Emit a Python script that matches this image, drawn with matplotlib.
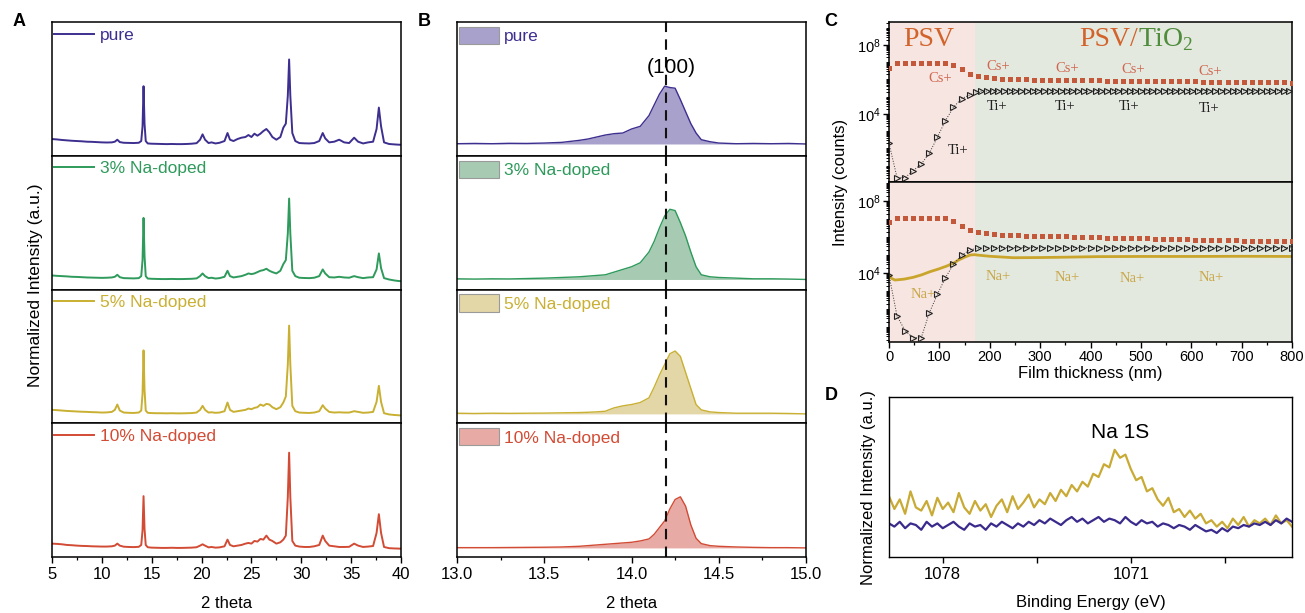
import numpy as np
import matplotlib
matplotlib.use("Agg")
import matplotlib.pyplot as plt
from matplotlib.patches import Patch
from matplotlib.ticker import FixedLocator, FuncFormatter, LogLocator, MultipleLocator, NullFormatter

plt.rcParams['font.family'] = ['Liberation Sans', 'DejaVu Sans']
plt.rcParams['font.size'] = 12

# ---------------- data ----------------
samples = ["pure", "3% Na-doped", "5% Na-doped", "10% Na-doped"]
line_colors = ["#3d2f8f", "#2e9a5b", "#c9b032", "#d24b34"]
fill_colors = ["#a8a1cb", "#a6cbb2", "#e3d6a7", "#e8aaa4"]

# panel A: full XRD patterns (normalized, stacked)
xrd_2theta = [5.0, 5.5, 6.0, 6.5, 7.0, 7.5, 8.0, 8.5, 9.0, 9.5,
              10.0, 10.5, 11.0, 11.3, 11.55, 11.8, 12.2, 12.7, 13.2, 13.7,
              13.95, 14.08, 14.18, 14.28, 14.4, 14.6, 15.0, 15.5, 16.0, 16.5,
              17.0, 17.5, 18.0, 18.5, 19.0, 19.5, 19.85, 20.1, 20.35, 20.7,
              21.0, 21.4, 21.8, 22.3, 22.6, 22.85, 23.2, 23.6, 24.0, 24.4,
              24.7, 25.0, 25.3, 25.6, 25.9, 26.2, 26.5, 26.8, 27.1, 27.5,
              27.9, 28.2, 28.45, 28.65, 28.78, 28.9, 29.1, 29.4, 29.8, 30.3,
              30.8, 31.3, 31.8, 32.15, 32.4, 32.8, 33.3, 33.8, 34.3, 34.8,
              35.3, 35.7, 36.2, 36.7, 37.2, 37.55, 37.78, 38.0, 38.3, 38.8,
              39.3, 39.7, 40.0]
xrd_pure = [0.125, 0.122, 0.118, 0.115, 0.112, 0.110, 0.108, 0.105, 0.104, 0.102,
            0.100, 0.099, 0.100, 0.105, 0.120, 0.102, 0.097, 0.096, 0.095, 0.097,
            0.11, 0.22, 0.52, 0.24, 0.11, 0.092, 0.090, 0.089, 0.088, 0.087,
            0.088, 0.087, 0.087, 0.088, 0.090, 0.094, 0.12, 0.16, 0.12, 0.095,
            0.10, 0.092, 0.097, 0.11, 0.17, 0.12, 0.11, 0.125, 0.135, 0.14,
            0.155, 0.14, 0.165, 0.15, 0.165, 0.185, 0.20, 0.175, 0.14, 0.12,
            0.14, 0.21, 0.24, 0.45, 0.72, 0.45, 0.17, 0.11, 0.095, 0.093,
            0.092, 0.095, 0.11, 0.17, 0.13, 0.10, 0.105, 0.12, 0.10, 0.095,
            0.135, 0.105, 0.092, 0.10, 0.105, 0.20, 0.36, 0.22, 0.10, 0.088,
            0.085, 0.083, 0.082]
xrd_na3 = [0.105, 0.102, 0.10, 0.098, 0.095, 0.094, 0.092, 0.090, 0.089, 0.088,
           0.087, 0.088, 0.090, 0.095, 0.11, 0.092, 0.085, 0.084, 0.083, 0.085,
           0.10, 0.22, 0.535, 0.25, 0.10, 0.082, 0.080, 0.079, 0.078, 0.078,
           0.079, 0.078, 0.078, 0.079, 0.08, 0.083, 0.10, 0.12, 0.10, 0.085,
           0.088, 0.082, 0.085, 0.095, 0.14, 0.10, 0.09, 0.095, 0.10, 0.11,
           0.12, 0.115, 0.12, 0.13, 0.14, 0.145, 0.155, 0.14, 0.13, 0.12,
           0.14, 0.19, 0.22, 0.42, 0.68, 0.42, 0.14, 0.10, 0.088, 0.086,
           0.085, 0.088, 0.10, 0.15, 0.12, 0.092, 0.09, 0.095, 0.09, 0.088,
           0.10, 0.092, 0.085, 0.09, 0.092, 0.15, 0.27, 0.16, 0.085, 0.075,
           0.068, 0.064, 0.062]
xrd_na5 = [0.10, 0.098, 0.095, 0.092, 0.09, 0.088, 0.086, 0.085, 0.083, 0.082,
           0.080, 0.081, 0.085, 0.10, 0.14, 0.095, 0.08, 0.078, 0.077, 0.08,
           0.095, 0.22, 0.545, 0.25, 0.095, 0.078, 0.076, 0.075, 0.075, 0.074,
           0.075, 0.074, 0.074, 0.075, 0.076, 0.08, 0.10, 0.13, 0.10, 0.08,
           0.082, 0.078, 0.08, 0.09, 0.155, 0.10, 0.085, 0.09, 0.095, 0.10,
           0.11, 0.105, 0.115, 0.12, 0.14, 0.13, 0.145, 0.14, 0.12, 0.105,
           0.12, 0.155, 0.20, 0.44, 0.73, 0.44, 0.13, 0.09, 0.08, 0.078,
           0.077, 0.08, 0.09, 0.135, 0.11, 0.085, 0.08, 0.082, 0.08, 0.08,
           0.09, 0.085, 0.078, 0.08, 0.085, 0.16, 0.28, 0.16, 0.075, 0.066,
           0.062, 0.06, 0.058]
xrd_na10 = [0.10, 0.098, 0.095, 0.09, 0.088, 0.085, 0.083, 0.082, 0.08, 0.079,
            0.078, 0.078, 0.08, 0.085, 0.10, 0.085, 0.077, 0.075, 0.074, 0.076,
            0.09, 0.20, 0.455, 0.21, 0.09, 0.073, 0.07, 0.069, 0.068, 0.068,
            0.069, 0.068, 0.068, 0.069, 0.07, 0.073, 0.085, 0.095, 0.085, 0.072,
            0.075, 0.07, 0.072, 0.08, 0.13, 0.09, 0.08, 0.085, 0.09, 0.10,
            0.105, 0.10, 0.12, 0.115, 0.135, 0.13, 0.16, 0.13, 0.12, 0.10,
            0.11, 0.13, 0.16, 0.45, 0.78, 0.45, 0.12, 0.085, 0.078, 0.075,
            0.075, 0.08, 0.09, 0.16, 0.12, 0.085, 0.08, 0.075, 0.075, 0.076,
            0.10, 0.085, 0.075, 0.078, 0.082, 0.18, 0.32, 0.18, 0.075, 0.066,
            0.064, 0.063, 0.062]

# panel B: zoom on the (100) reflection
zoom_2theta = [13.0, 13.1, 13.2, 13.3, 13.4, 13.5, 13.6, 13.7, 13.75, 13.8,
               13.85, 13.9, 13.95, 14.0, 14.05, 14.1, 14.13, 14.16, 14.19, 14.22,
               14.25, 14.28, 14.31, 14.34, 14.37, 14.4, 14.45, 14.5, 14.6, 14.7,
               14.8, 14.9, 15.0]
zoom_pure = [0.09, 0.092, 0.09, 0.093, 0.092, 0.095, 0.10, 0.115, 0.125, 0.14,
             0.155, 0.165, 0.17, 0.20, 0.22, 0.30, 0.38, 0.46, 0.52, 0.51,
             0.505, 0.42, 0.33, 0.24, 0.17, 0.12, 0.105, 0.095, 0.09, 0.092,
             0.09, 0.092, 0.088]
zoom_na3 = [0.08, 0.078, 0.08, 0.079, 0.082, 0.085, 0.09, 0.095, 0.10, 0.105,
            0.11, 0.13, 0.15, 0.17, 0.20, 0.28, 0.36, 0.46, 0.55, 0.60,
            0.59, 0.50, 0.40, 0.28, 0.17, 0.11, 0.095, 0.09, 0.085, 0.08,
            0.08, 0.078, 0.075]
zoom_na5 = [0.075, 0.073, 0.075, 0.074, 0.075, 0.076, 0.078, 0.08, 0.082, 0.085,
            0.09, 0.115, 0.13, 0.14, 0.155, 0.19, 0.27, 0.36, 0.44, 0.52,
            0.54, 0.50, 0.38, 0.26, 0.14, 0.10, 0.085, 0.08, 0.075, 0.075,
            0.075, 0.073, 0.07]
zoom_na10 = [0.07, 0.07, 0.07, 0.071, 0.072, 0.073, 0.075, 0.08, 0.085, 0.09,
             0.095, 0.10, 0.105, 0.11, 0.12, 0.135, 0.17, 0.22, 0.27, 0.36,
             0.43, 0.45, 0.38, 0.24, 0.14, 0.10, 0.085, 0.08, 0.075, 0.072,
             0.07, 0.07, 0.068]
peak_100 = 14.2

# panel C: ToF-SIMS depth profiles (log10 counts)
depth_16 = [0, 16, 32, 48, 64, 80, 96, 112, 128, 144,
            160, 176, 192, 208, 224, 240, 256, 272, 288, 304,
            320, 336, 352, 368, 384, 400, 416, 432, 448, 464,
            480, 496, 512, 528, 544, 560, 576, 592, 608, 624,
            640, 656, 672, 688, 704, 720, 736, 752, 768, 784, 800]
cs_top = [6.65, 6.97, 6.98, 6.98, 6.97, 6.98, 6.97, 6.98, 6.84, 6.59,
          6.32, 6.20, 6.12, 6.07, 6.04, 6.02, 6.01, 6.00, 5.99, 5.99,
          5.98, 5.97, 5.97, 5.96, 5.96, 5.95, 5.95, 5.94, 5.94, 5.93,
          5.93, 5.92, 5.92, 5.91, 5.91, 5.90, 5.90, 5.89, 5.89, 5.88,
          5.88, 5.87, 5.87, 5.86, 5.86, 5.85, 5.85, 5.84, 5.84, 5.83, 5.82]
ti_top_depth = [0, 16, 32, 48, 64, 80, 96, 112, 128, 144, 160,
                172, 183, 194, 206, 217, 228, 240, 251, 262, 274,
                285, 296, 308, 319, 330, 342, 353, 364, 376, 387,
                398, 410, 421, 432, 444, 455, 466, 478, 489, 500,
                512, 523, 534, 546, 557, 568, 580, 591, 602, 614,
                625, 636, 648, 659, 670, 682, 693, 704, 716, 727,
                738, 750, 761, 772, 784, 795]
ti_top = [2.30, 0.31, 0.31, 0.71, 1.10, 1.72, 2.65, 3.61, 4.39, 4.89, 5.10,
          5.28, 5.32, 5.33, 5.34, 5.34, 5.35, 5.35, 5.35, 5.35, 5.35,
          5.35, 5.35, 5.35, 5.35, 5.35, 5.35, 5.35, 5.35, 5.35, 5.35,
          5.35, 5.35, 5.35, 5.35, 5.35, 5.35, 5.35, 5.35, 5.35, 5.35,
          5.35, 5.35, 5.35, 5.35, 5.35, 5.35, 5.35, 5.35, 5.35, 5.35,
          5.35, 5.35, 5.35, 5.35, 5.35, 5.35, 5.35, 5.35, 5.35, 5.35,
          5.35, 5.35, 5.35, 5.35, 5.35, 5.35]
cs_bottom = [6.85, 7.04, 7.05, 7.05, 7.04, 7.05, 7.05, 7.04, 6.91, 6.63,
             6.39, 6.26, 6.20, 6.16, 6.13, 6.11, 6.09, 6.08, 6.07, 6.06,
             6.05, 6.04, 6.03, 6.02, 6.01, 5.99, 5.98, 5.97, 5.96, 5.95,
             5.94, 5.93, 5.92, 5.91, 5.90, 5.89, 5.88, 5.87, 5.86, 5.85,
             5.84, 5.83, 5.82, 5.81, 5.80, 5.80, 5.79, 5.78, 5.77, 5.77, 5.76]
ti_bottom = [3.89, 1.61, 0.79, 0.40, 0.40, 1.79, 2.81, 3.74, 4.48, 4.98,
             5.28, 5.38, 5.40, 5.41, 5.41, 5.41, 5.41, 5.41, 5.41, 5.41,
             5.41, 5.41, 5.41, 5.41, 5.41, 5.41, 5.41, 5.41, 5.41, 5.41,
             5.41, 5.41, 5.41, 5.41, 5.41, 5.41, 5.41, 5.41, 5.41, 5.41,
             5.41, 5.41, 5.41, 5.41, 5.41, 5.41, 5.41, 5.41, 5.41, 5.41, 5.41]
na_depth = [0, 5, 12, 30, 48, 65, 81, 98, 115, 130, 138, 150, 161, 170,
            175, 200, 247, 300, 350, 413, 500, 600, 700, 800]
na_bottom = [3.89, 3.70, 3.61, 3.66, 3.76, 3.90, 4.07, 4.22, 4.39, 4.58, 4.72,
             4.88, 5.00, 5.02, 5.00, 4.93, 4.85, 4.86, 4.88, 4.91, 4.92, 4.92,
             4.93, 4.92]
psv_thickness = 171
cs_labels = [(101, 6.03), (217, 6.74), (353, 6.65), (485, 6.55), (637, 6.45)]
ti_labels = [(138, 1.87), (214, 4.42), (349, 4.46), (477, 4.42), (636, 4.33)]
na_labels = [(68, 2.83), (217, 3.80), (353, 3.76), (482, 3.71), (639, 3.76)]

# panel D: XPS Na 1s
binding_energy = [1080.0, 1079.8, 1079.6, 1079.4, 1079.2, 1079.0, 1078.8, 1078.6, 1078.4, 1078.2,
                  1078.0, 1077.8, 1077.6, 1077.4, 1077.2, 1077.0, 1076.8, 1076.6, 1076.4, 1076.2,
                  1076.0, 1075.8, 1075.6, 1075.4, 1075.2, 1075.0, 1074.8, 1074.6, 1074.4, 1074.2,
                  1074.0, 1073.8, 1073.6, 1073.4, 1073.2, 1073.0, 1072.8, 1072.6, 1072.4, 1072.2,
                  1072.0, 1071.8, 1071.6, 1071.4, 1071.2, 1071.0, 1070.8, 1070.6, 1070.4, 1070.2,
                  1070.0, 1069.8, 1069.6, 1069.4, 1069.2, 1069.0, 1068.8, 1068.6, 1068.4, 1068.2,
                  1068.0, 1067.8, 1067.6, 1067.4, 1067.2, 1067.0, 1066.8, 1066.6, 1066.4, 1066.2,
                  1066.0, 1065.8, 1065.6, 1065.4, 1065.2, 1065.0]
xps_na5 = [0.38, 0.30, 0.36, 0.27, 0.41, 0.31, 0.29, 0.35, 0.26, 0.37,
           0.30, 0.34, 0.28, 0.40, 0.31, 0.27, 0.35, 0.29, 0.33, 0.25,
           0.32, 0.36, 0.28, 0.38, 0.30, 0.34, 0.39, 0.31, 0.36, 0.33,
           0.40, 0.35, 0.42, 0.38, 0.45, 0.41, 0.47, 0.44, 0.52, 0.50,
           0.58, 0.56, 0.67, 0.62, 0.64, 0.55, 0.48, 0.50, 0.41, 0.43,
           0.36, 0.32, 0.37, 0.28, 0.30, 0.25, 0.29, 0.24, 0.27, 0.21,
           0.23, 0.19, 0.22, 0.18, 0.24, 0.20, 0.25, 0.19, 0.23, 0.21,
           0.24, 0.20, 0.26, 0.21, 0.23, 0.19]
xps_pure = [0.21, 0.19, 0.22, 0.18, 0.21, 0.20, 0.17, 0.22, 0.19, 0.21,
            0.18, 0.20, 0.22, 0.19, 0.17, 0.21, 0.19, 0.20, 0.17, 0.21,
            0.19, 0.22, 0.20, 0.18, 0.21, 0.19, 0.22, 0.20, 0.23, 0.21,
            0.24, 0.22, 0.20, 0.23, 0.25, 0.22, 0.24, 0.21, 0.23, 0.25,
            0.22, 0.24, 0.23, 0.21, 0.25, 0.22, 0.20, 0.23, 0.21, 0.22,
            0.19, 0.21, 0.20, 0.18, 0.20, 0.19, 0.17, 0.20, 0.18, 0.16,
            0.17, 0.15, 0.18, 0.16, 0.19, 0.18, 0.20, 0.19, 0.21, 0.20,
            0.22, 0.20, 0.23, 0.21, 0.24, 0.22]

xrd_sets = [xrd_pure, xrd_na3, xrd_na5, xrd_na10]
zoom_sets = [zoom_pure, zoom_na3, zoom_na5, zoom_na10]

# ---------------- layout ----------------
W, H = 1305, 613
fig = plt.figure(figsize=(W / 100, H / 100), dpi=100)


def box(x0, y0, x1, y1):
    # pixel box (top-left origin) -> figure fraction rect
    return [x0 / W, 1 - y1 / H, (x1 - x0) / W, (y1 - y0) / H]


edges = [22, 155.75, 289.5, 423.25, 557]
SERIF = ['Liberation Serif', 'DejaVu Serif']


def style_stack(ax, last, xmaj, xmin):
    ax.set_ylim(0, 1)
    ax.set_yticks([])
    for s in ax.spines.values():
        s.set_linewidth(1.1)
    if last:
        ax.xaxis.set_major_locator(MultipleLocator(xmaj))
        ax.xaxis.set_minor_locator(MultipleLocator(xmin))
        ax.tick_params(axis='x', which='major', direction='out', length=4, width=1, labelsize=12)
        ax.tick_params(axis='x', which='minor', direction='out', length=2.5, width=0.9)
        ax.set_xlabel("2 theta", fontsize=12, labelpad=10)
    else:
        ax.tick_params(axis='x', which='both', bottom=False, labelbottom=False)


# panel A
for i in range(4):
    ax = fig.add_axes(box(52, edges[i], 401, edges[i + 1]))
    ax.plot(xrd_2theta, xrd_sets[i], color=line_colors[i], lw=1.4, label=samples[i])
    ax.set_xlim(5, 40)
    style_stack(ax, i == 3, 5, 2.5)
    ax.legend(loc='upper left', bbox_to_anchor=(-0.005, 0.985), frameon=False,
              handlelength=2.3, handletextpad=0.35, borderaxespad=0, borderpad=0.2,
              labelcolor='linecolor', fontsize=12.5)
fig.text(36 / W, 1 - 285 / H, "Normalized Intensity (a.u.)", rotation=90,
         ha='center', va='center', fontsize=12.5)

# panel B
for i in range(4):
    ax = fig.add_axes(box(457, edges[i], 806, edges[i + 1]))
    ax.fill_between(zoom_2theta, min(zoom_sets[i]), zoom_sets[i], color=fill_colors[i], lw=0)
    ax.plot(zoom_2theta, zoom_sets[i], color=line_colors[i], lw=1.0)
    ax.axvline(peak_100, color='#111111', ls=(0, (5, 3.5)), lw=1.5)
    ax.set_xlim(13.0, 15.0)
    style_stack(ax, i == 3, 0.5, 0.25)
    if i == 3:
        ax.xaxis.set_major_formatter(FuncFormatter(lambda v, p: f"{v:.1f}"))
    h = Patch(facecolor=fill_colors[i], edgecolor='#9a9a9a', lw=0.8)
    ax.legend([h], [samples[i]], loc='upper left', bbox_to_anchor=(-0.005, 0.99),
              frameon=False, handlelength=2.3, handleheight=1.15, handletextpad=0.3,
              borderaxespad=0, borderpad=0.2, labelcolor=line_colors[i], fontsize=12.5)
    if i == 0:
        ax.text(peak_100 + 0.03, 0.66, "(100)", ha='center', va='center', fontsize=15)

# panel C
axC1 = fig.add_axes(box(889, 22, 1292, 182))
axC2 = fig.add_axes(box(889, 182, 1292, 342))
pow10 = lambda v: np.power(10.0, np.asarray(v))
for ax in (axC1, axC2):
    ax.axvspan(0, psv_thickness, color='#f6e5e0', lw=0, zorder=0)
    ax.axvspan(psv_thickness, 800, color='#e4e9e0', lw=0, zorder=0)
    ax.set_xlim(0, 800)
    ax.set_yscale('log')
    ax.yaxis.set_major_locator(FixedLocator([1e4, 1e8]))
    ax.yaxis.set_major_formatter(FuncFormatter(
        lambda v, p: r"$\mathregular{10^{%d}}$" % round(np.log10(v))))
    ax.yaxis.set_minor_locator(LogLocator(base=10, subs=np.arange(1, 10), numticks=30))
    ax.yaxis.set_minor_formatter(NullFormatter())
    ax.tick_params(axis='y', which='major', direction='out', length=4, width=1, labelsize=10.5, pad=2)
    ax.tick_params(axis='y', which='minor', direction='out', length=2, width=0.7)
    for s in ax.spines.values():
        s.set_linewidth(1.1)

axC1.set_ylim(1.14, 2.15e9)
axC2.set_ylim(1.47, 1.14e9)
axC1.tick_params(axis='x', which='both', bottom=False, labelbottom=False)
axC2.xaxis.set_major_locator(MultipleLocator(100))
axC2.xaxis.set_minor_locator(MultipleLocator(50))
axC2.tick_params(axis='x', which='major', direction='out', length=4, width=1, labelsize=10.5, pad=2)
axC2.tick_params(axis='x', which='minor', direction='out', length=2.5, width=0.9)
axC2.set_xlabel("Film thickness (nm)", fontsize=12, labelpad=1)

cs_kw = dict(marker='s', ms=3.6, ls='none', color='#c4583b', mew=0, zorder=3)
ti_kw = dict(marker='>', ms=3.8, mfc='none', mec='#222222', mew=0.8,
             ls=':', lw=0.7, color='#333333', zorder=3)
axC1.plot(depth_16, pow10(cs_top), **cs_kw)
axC1.plot(ti_top_depth, pow10(ti_top), **ti_kw)
axC2.plot(depth_16, pow10(cs_bottom), **cs_kw)
axC2.plot(depth_16, pow10(ti_bottom), **ti_kw)
axC2.plot(na_depth, pow10(na_bottom), color='#c9a52c', lw=2, zorder=2)

for x, y in cs_labels:
    axC1.text(x, 10 ** y, "Cs+", color='#d0664f', family=SERIF, fontsize=10.5,
              ha='center', va='center')
for x, y in ti_labels:
    axC1.text(x, 10 ** y, "Ti+", color='#222222', family=SERIF, fontsize=10.5,
              ha='center', va='center')
for x, y in na_labels:
    axC2.text(x, 10 ** y, "Na+", color='#c9a84a', family=SERIF, fontsize=10.5,
              ha='center', va='center')
axC1.text(78, 10 ** 8.29, "PSV", color='#d2632a', family=SERIF, fontsize=20,
          ha='center', va='center')
axC1.text(495, 10 ** 8.29, "PSV/", color='#d2632a', family=SERIF, fontsize=20,
          ha='right', va='center')
axC1.text(495, 10 ** 8.29, r"TiO$_{\mathregular{2}}$", color='#4f8c3c', family=SERIF,
          fontsize=20, ha='left', va='center')
fig.text(840 / W, 1 - 182 / H, "Intensity (counts)", rotation=90,
         ha='center', va='center', fontsize=12)

# panel D
axD = fig.add_axes(box(889, 397, 1292, 557))
axD.plot(binding_energy, xps_na5, color='#c8aa35', lw=1.6)
axD.plot(binding_energy, xps_pure, color='#3a2a8c', lw=1.6)
axD.set_xlim(1080, 1065)
axD.set_ylim(0, 1)
axD.set_yticks([])
axD.xaxis.set_major_locator(FixedLocator([1078, 1071]))
axD.xaxis.set_minor_locator(FixedLocator([1074.5, 1067.5]))
axD.tick_params(axis='x', which='major', direction='out', length=4, width=1, labelsize=12)
axD.tick_params(axis='x', which='minor', direction='out', length=4, width=1)
axD.set_xlabel("Binding Energy (eV)", fontsize=12, labelpad=9)
for s in axD.spines.values():
    s.set_linewidth(1.0)
axD.text(1071.4, 0.775, "Na 1S", ha='center', va='center', fontsize=15)
fig.text(868 / W, 1 - 488 / H, "Normalized Intensity (a.u.)", rotation=90,
         ha='center', va='center', fontsize=12)

# panel letters
for lab, x, y in [("A", 19, 21), ("B", 424, 21), ("C", 831, 21), ("D", 831, 396)]:
    fig.text(x / W, 1 - y / H, lab, ha='center', va='center', fontsize=13, fontweight='bold')

fig.savefig("out.png", dpi=100)
